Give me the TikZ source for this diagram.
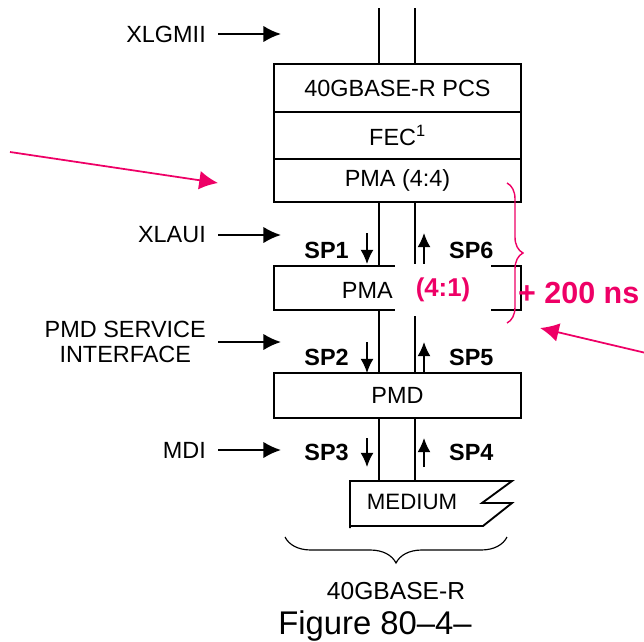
\documentclass[tikz,border=0pt]{standalone}
\usepackage{fontspec}
\setmainfont{Liberation Sans}
\usepackage{xcolor}
\usepackage{tikz}
\usetikzlibrary{arrows.meta, positioning, decorations.pathreplacing}
\definecolor{hongdo}{RGB}{238,0,102}

\begin{document}
\begin{tikzpicture}[>={Latex[length=15pt,width=14pt]}, x=0.03cm, y=-0.03cm,
    lop/.style={draw, line width=1.6pt, minimum width=7.41cm, inner sep=0, outer sep=0, font=\fontsize{20}{24}\selectfont},
    nhan/.style={font=\fontsize{20}{21.5}\selectfont, anchor=east, inner ysep=0, inner xsep=0.36cm, align=center},
    sp/.style={font=\bfseries\fontsize{20}{24}\selectfont, inner sep=0},
    day/.style={line width=1.6pt},
    ten/.style={->, line width=1.7pt},
    tennho/.style={-{Latex[length=12pt,width=11pt]}, line width=1.3pt},
    do/.style={hongdo, line width=1.5pt, -{Latex[length=16pt,width=16pt]}}]

    \useasboundingbox (0,0) rectangle (644,641);

    % Các khối
    \node[lop, minimum height=1.44cm] (pcs) at (397.5,88) {40GBASE-R PCS};
    \node[lop, minimum height=1.41cm, below=0pt of pcs] (fec) {FEC\textsuperscript{1}};
    \node[lop, minimum height=1.29cm, below=0pt of fec] (pma44) {PMA (4:4)};
    \node[lop, minimum height=1.32cm] (pma41) at (397.5,288) {};
    \node[lop, minimum height=1.35cm] (pmd) at (397.5,395.5) {PMD};

    % Đường tín hiệu
    \coordinate (L) at (379,8);
    \coordinate (R) at (415,8);
    \coordinate (mtren) at (397,481);
    \foreach \p in {L,R} {
        \draw[day] (\p) -- (\p |- pcs.north);
        \draw[day] (\p |- pma44.south) -- (\p |- pma41.north);
        \draw[day] (\p |- pma41.south) -- (\p |- pmd.north);
        \draw[day] (\p |- pmd.south) -- (\p |- mtren);
    }

    % Môi trường truyền
    \draw[day] (350,528) -- (350,481) -- (512,481) -- (482,503) -- (512,503) -- (483,526) -- (350,526);
    \node[font=\fontsize{19}{22}\selectfont] (medium) at (412,502) {MEDIUM};

    % Giao diện
    \foreach \ten/\y [count=\i] in {XLGMII/34, XLAUI/235, MDI/450} {
        \node[nhan] (gd\i) at (218,\y) {\ten};
        \coordinate (mt\i) at (281,\y);
        \draw[ten] (gd\i) -- (mt\i);
    }
    \node[nhan] (gd4) at (218,342) {PMD SERVICE\\INTERFACE};
    \coordinate (mt4) at (281,342);
    \draw[ten] (gd4) -- (mt4);

    % Điểm đo SP
    \foreach \ten/\y/\a/\b in {SP1/250/233/264, SP2/357/342/373, SP3/452/438/467} {
        \node[sp, anchor=east] (\ten) at (349,\y) {\ten};
        \draw[tennho] (367,\a) -- (367,\b);
    }
    \foreach \ten/\y/\a/\b in {SP6/250/264/233, SP5/357/373/342, SP4/452/467/438} {
        \node[sp, anchor=west] (\ten) at (449,\y) {\ten};
        \draw[tennho] (424,\a) -- (424,\b);
    }

    % Nhãn bị che
    \node[anchor=east, inner sep=0, font=\fontsize{20}{24}\selectfont] (chupma) at (393,290) {PMA};
    \node[fill=white, minimum width=2.88cm, minimum height=1.56cm, inner sep=0, text=hongdo,
        font=\bfseries\fontsize{22}{24}\selectfont] (phu) at (443,290) {(4:1)};

    % Chú thích đỏ
    \coordinate (do1) at (10,152);
    \coordinate (do2) at (218,183);
    \draw[do] (do1) -- (do2);
    \draw[hongdo, line width=1.2pt, decorate, decoration={brace, amplitude=0.48cm}] (507,183) -- (507,323);
    \node[anchor=west, inner sep=0, text=hongdo, font=\bfseries\fontsize{26}{30}\selectfont] (tre) at (518,293) {+ 200 ns};
    \coordinate (do3) at (646,353);
    \coordinate (do4) at (540,328);
    \draw[do] (do3) -- (do4);

    % Ngoặc dưới
    \draw[line width=1pt, decorate, decoration={brace, mirror, amplitude=0.78cm}] (285,537) -- (507,537);
    \node[anchor=base, font=\fontsize{21}{24}\selectfont] (loai) at (396,599) {40GBASE-R};
    \node[anchor=base, font=\fontsize{28}{32}\selectfont] (hinh) at (375,634) {Figure 80–4–};

\end{tikzpicture}
\end{document}
